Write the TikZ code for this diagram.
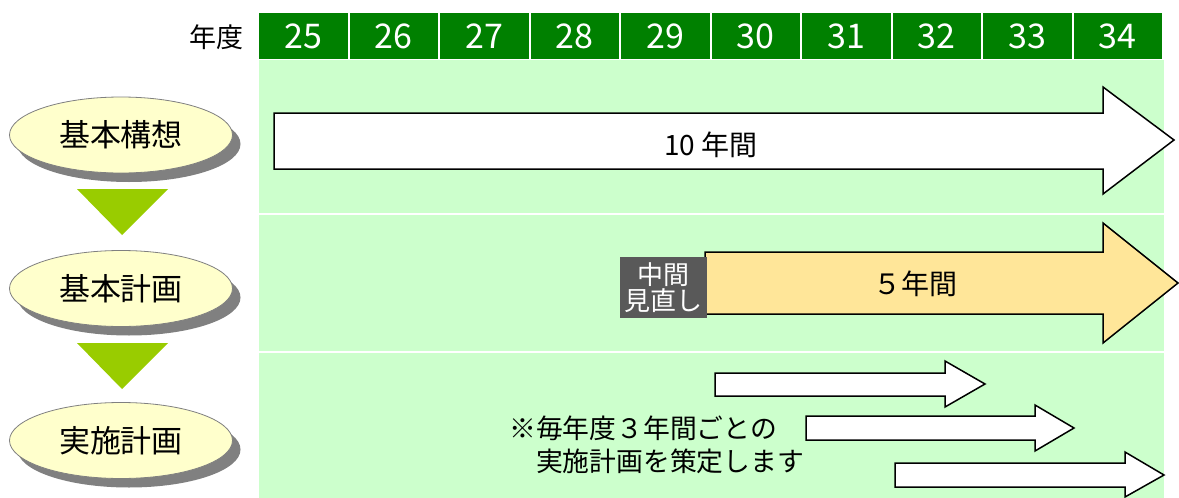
\documentclass[tikz,border=0pt]{standalone}
\usepackage{fontspec}
\setmainfont{Noto Sans CJK JP}
\usetikzlibrary{shapes.geometric,shadows}
\definecolor{hdrgreen}{HTML}{008000}
\definecolor{bandgreen}{HTML}{CCFFCC}
\definecolor{lblfill}{HTML}{FFFFCC}
\definecolor{trigreen}{HTML}{99CC00}
\definecolor{midgray}{HTML}{595959}
\definecolor{fiveyr}{HTML}{FFE699}
\begin{document}
\begin{tikzpicture}[x=1pt,y=-1pt,
  hdrcell/.style={fill=hdrgreen,text=white,inner sep=0,minimum width=88.5,minimum height=46,font=\fontsize{34}{36}\selectfont},
  band/.style={fill=bandgreen},
  stage/.style={ellipse,draw=gray,line width=0.8pt,fill=lblfill,minimum width=223,minimum height=76,inner sep=0,
    font=\fontsize{31}{34}\selectfont,
    drop shadow={shadow xshift=8pt,shadow yshift=-9pt,fill=gray,opacity=1}},
  flowtri/.style={fill=trigreen},
  bigarrow/.style={draw=black,line width=1.5pt,line join=miter},
  arrowtext/.style={font=\fontsize{28}{30}\selectfont,inner sep=0}
]
\useasboundingbox (0,0) rectangle (1179,498);
\fill[white] (0,0) rectangle (1179,498);

% header
\node[anchor=east,inner sep=0,font=\fontsize{27}{30}\selectfont] (nendo) at (244,37) {年度};
\foreach \i/\y in {0/25,1/26,2/27,3/28,4/29,5/30,6/31,7/32,8/33,9/34}{
  \node[hdrcell] (y\y) at ({259+90.5*\i+44.25},36) {\y};
}

% bands
\fill[band] (259,60) rectangle (1164,213);
\fill[band] (259,215) rectangle (1164,351);
\fill[band] (259,353) rectangle (1164,498);

% stage ellipses
\node[stage] (kihonkoso) at (121,135) {基本構想};
\node[stage] (kihonkeikaku) at (121,288.5) {基本計画};
\node[stage] (jisshi) at (121,440.5) {実施計画};

% triangles
\fill[flowtri] (77,189) -- (168,189) -- (122,235) -- cycle;
\fill[flowtri] (77,343) -- (168,343) -- (122,389) -- cycle;

% 10-year arrow
\draw[bigarrow,fill=white] (274,113) -- (1103,113) -- (1103,87) -- (1174,140) -- (1103,194) -- (1103,169) -- (274,169) -- cycle;
\node[arrowtext] (ten) at (711,145) {10 年間};

% 5-year arrow
\draw[bigarrow,fill=fiveyr] (705,252) -- (1103,252) -- (1103,223) -- (1178,283) -- (1103,343) -- (1103,314) -- (705,314) -- cycle;
\node[arrowtext] (five) at (915,284) {５年間};

% mid review box
\node[fill=midgray,text=white,inner sep=0,minimum width=87,minimum height=61,align=center,
  font=\fontsize{26}{26}\selectfont] (review) at (663.5,287.5) {中間\\見直し};

% yearly arrows
\draw[bigarrow,fill=white] (715,373) -- (945,373) -- (945,361) -- (985,384) -- (945,407) -- (945,396) -- (715,396) -- cycle;
\draw[bigarrow,fill=white] (806,416) -- (1035,416) -- (1035,405) -- (1074,428) -- (1035,451) -- (1035,440) -- (806,440) -- cycle;
\draw[bigarrow,fill=white] (895,463) -- (1125,463) -- (1125,452) -- (1164,475) -- (1125,497) -- (1125,487) -- (895,487) -- cycle;

% note
\node[anchor=west,inner sep=0,align=left,font=\fontsize{26.8}{33}\selectfont] (note) at (509,444.5)
  {※毎年度３年間ごとの\\\hspace*{1em}実施計画を策定します};
\end{tikzpicture}
\end{document}
